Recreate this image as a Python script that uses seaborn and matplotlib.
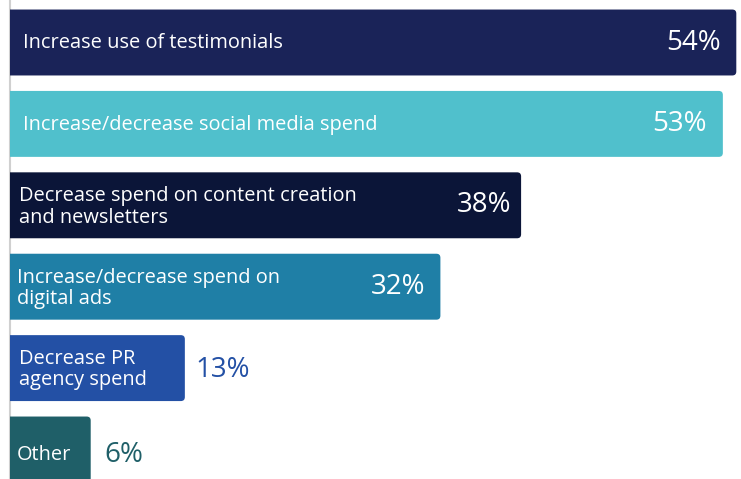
import matplotlib
matplotlib.use("Agg")
import matplotlib.pyplot as plt
from matplotlib.patches import FancyBboxPatch
import seaborn as sns
import pandas as pd

# Survey responses: share of respondents per planned action
categories = [
    "Increase use of testimonials",
    "Increase/decrease social media spend",
    "Decrease spend on content creation\nand newsletters",
    "Increase/decrease spend on\ndigital ads",
    "Decrease PR\nagency spend",
    "Other",
]
values = [54, 53, 38, 32, 13, 6]
value_labels = ["54%", "53%", "38%", "32%", "13%", "6%"]
colors = ["#1a2358", "#50c0cc", "#0b1538", "#1f7fa6", "#2350a5", "#1f5f68"]

df = pd.DataFrame({"category": categories, "value": values})

sns.set_theme(style="white")
plt.rcParams["font.family"] = ["Open Sans", "DejaVu Sans"]

W, H = 741, 479
fig = plt.figure(figsize=(W / 100, H / 100), dpi=100)
ax = fig.add_axes([10 / W, 0, 1 - 10 / W, 1])

sns.barplot(data=df, x="value", y="category", hue="category",
            palette=colors, saturation=1, width=0.81, legend=False,
            ax=ax, orient="h")

px_per_unit = 13.45
pitch = 81.4
ax.set_ylim((H - 42.5) / pitch, -42.5 / pitch)

# Replace square bars with slightly rounded ones
radius_px = 4
for p in list(ax.patches):
    x0, y0 = p.get_x(), p.get_y()
    w, h = p.get_width(), p.get_height()
    fc = p.get_facecolor()
    p.remove()
    r = radius_px / px_per_unit
    box = FancyBboxPatch((x0 - 1, y0), w + 1, h,
                         boxstyle=f"round,pad=0,rounding_size={r}",
                         mutation_aspect=px_per_unit / pitch,
                         facecolor=fc, edgecolor="none", zorder=2)
    ax.add_patch(box)
ax.set_xlim(0, (W - 10) / px_per_unit)

label_pad_px = [13, 13, 9, 7, 9, 7]
label_dy = [0.01, 0.01, 0.02, 0.02, 0.02, 0.07]
value_pad_px = [15, 16, 10, 15, 11, 14]
inside = [True, True, True, True, False, False]
for i, (cat, v, vl, c) in enumerate(zip(categories, values, value_labels, colors)):
    ax.text(label_pad_px[i] / px_per_unit, i + label_dy[i], cat,
            color="white", fontsize=14.4, va="center", ha="left",
            linespacing=1.1, zorder=3)
    if inside[i]:
        ax.text(v - value_pad_px[i] / px_per_unit, i, vl, color="white",
                fontsize=20, va="center", ha="right", zorder=3)
    else:
        ax.text(v + value_pad_px[i] / px_per_unit, i + label_dy[i], vl,
                color=c, fontsize=20, va="center", ha="left", zorder=3)

ax.set_xlabel("")
ax.set_ylabel("")
ax.set_xticks([])
ax.set_yticks([])
for side in ["top", "right", "bottom"]:
    ax.spines[side].set_visible(False)
ax.spines["left"].set_color("#d0d0d0")
ax.spines["left"].set_linewidth(1.5)
ax.spines["left"].set_zorder(1)

fig.savefig("out.png", dpi=100)
